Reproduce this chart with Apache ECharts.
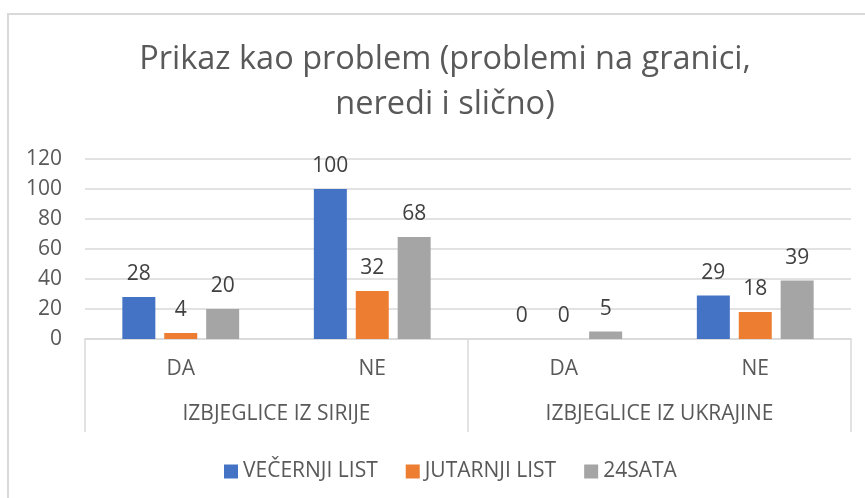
<!DOCTYPE html>
<html>
<head>
<meta charset="utf-8">
<script src="https://cdn.jsdelivr.net/npm/echarts@6/dist/echarts.min.js"></script>
<style>
  html, body { margin: 0; padding: 0; background: #fff; }
  #chart { width: 865px; height: 498px; }
</style>
</head>
<body>
<div id="chart"></div>
<script>
const titleLines = ['Prikaz kao problem (problemi na granici,', 'neredi i slično)']
const subCategories = ['DA', 'NE', 'DA', 'NE']
const groups = ['IZBJEGLICE IZ SIRIJE', 'IZBJEGLICE IZ UKRAJINE']
const seriesNames = ['VEČERNJI LIST', 'JUTARNJI LIST', '24SATA']
const vecernji = [28, 100, 0, 29]
const jutarnji = [4, 32, 0, 18]
const sata24 = [20, 68, 5, 39]
const colors = ['#4472C4', '#ED7D31', '#A5A5A5']

const textColor = '#595959'
const lineColor = '#d9d9d9'
const font = '"Open Sans", "Noto Sans", sans-serif'

const chart = echarts.init(document.getElementById('chart'), null, { renderer: 'canvas' })

const values = [vecernji, jutarnji, sata24]

const option = {
    animation: false,
    textStyle: { fontFamily: font },
    graphic: [
        {
            type: 'rect',
            shape: { x: 8, y: 14, width: 900, height: 600 },
            style: { fill: 'none', stroke: lineColor, lineWidth: 2 },
            silent: true
        },
        {
            type: 'text',
            x: 445,
            y: 37,
            style: {
                text: titleLines.join('\n'),
                align: 'center',
                verticalAlign: 'top',
                fontSize: 32.5,
                lineHeight: 45,
                fontFamily: font,
                fill: textColor
            }
        }
    ],
    legend: {
        left: 219,
        top: 456,
        icon: 'rect',
        itemWidth: 14,
        itemHeight: 14,
        itemGap: 28,
        textStyle: { fontSize: 21, color: textColor },
        data: seriesNames
    },
    grid: {
        left: 85,
        right: 14,
        top: 159,
        bottom: 159
    },
    xAxis: [
        {
            type: 'category',
            data: subCategories,
            axisLine: { lineStyle: { color: lineColor, width: 1.5 } },
            axisTick: { show: false },
            axisLabel: { margin: 20, fontSize: 21, color: textColor }
        },
        {
            type: 'category',
            data: groups,
            position: 'bottom',
            axisLine: { show: false },
            axisTick: { show: true, length: 93, lineStyle: { color: lineColor, width: 1.5 } },
            axisLabel: { margin: 65, fontSize: 21, color: textColor, interval: 0 }
        }
    ],
    yAxis: {
        type: 'value',
        min: 0,
        max: 120,
        interval: 20,
        axisLine: { show: false },
        axisTick: { show: false },
        splitLine: { lineStyle: { color: lineColor, width: 1.5 } },
        axisLabel: { margin: 23, fontSize: 21, color: textColor }
    },
    series: seriesNames.map((name, i) => ({
        name: name,
        type: 'bar',
        xAxisIndex: 0,
        data: values[i],
        barWidth: 33,
        barGap: '27%',
        itemStyle: { color: colors[i] },
        label: {
            show: true,
            position: 'top',
            distance: 12,
            fontSize: 21,
            color: '#404040'
        }
    }))
}

chart.setOption(option)
</script>
</body>
</html>
